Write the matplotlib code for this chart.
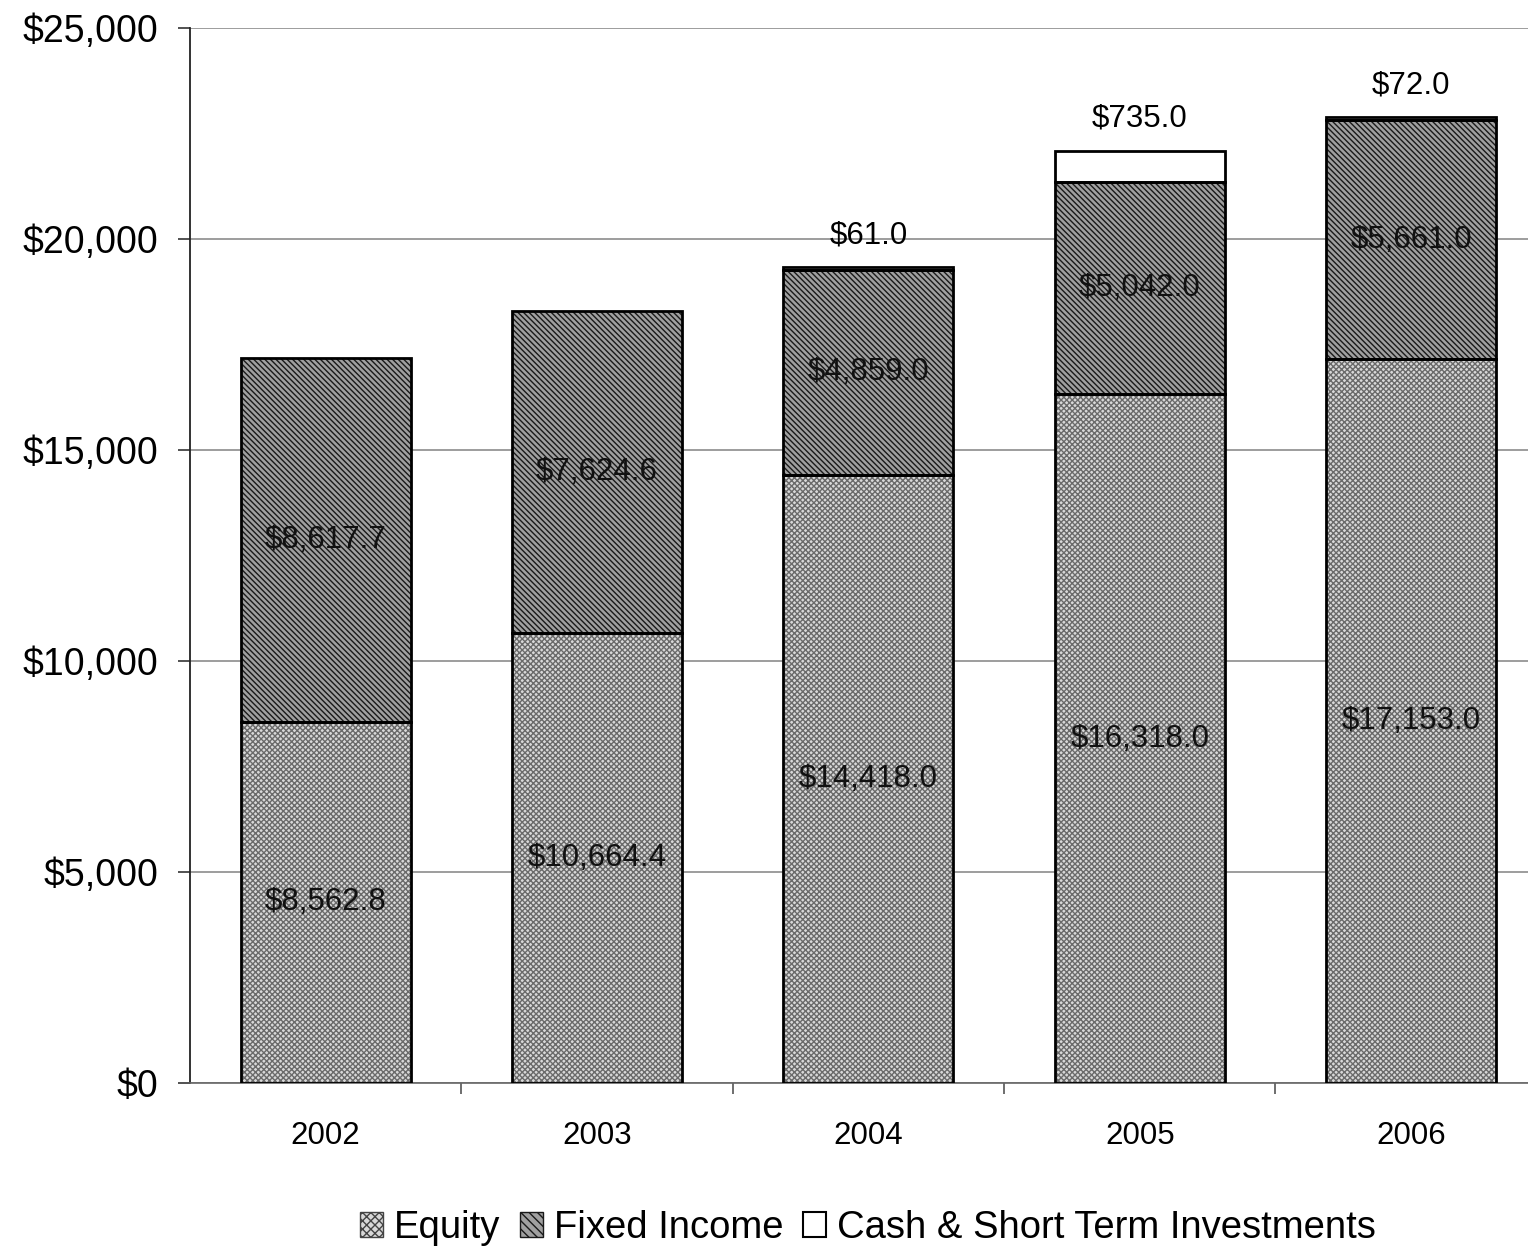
import matplotlib
matplotlib.use("Agg")
import matplotlib.pyplot as plt
import numpy as np
from matplotlib.patches import Patch
from matplotlib.ticker import FuncFormatter

years = ["2002", "2003", "2004", "2005", "2006"]
equity = [8562.8, 10664.4, 14418.0, 16318.0, 17153.0]
fixed_income = [8617.7, 7624.6, 4859.0, 5042.0, 5661.0]
cash = [0.0, 0.0, 61.0, 735.0, 72.0]

plt.rcParams["font.family"] = ["Liberation Sans", "DejaVu Sans"]
plt.rcParams["hatch.linewidth"] = 1.0

fig = plt.figure(figsize=(15.28, 12.57), dpi=100)
ax = fig.add_axes([0.1243, 0.1384, 0.888, 0.8393])

x = np.arange(len(years))
w = 0.626
eq = np.array(equity)
fi = np.array(fixed_income)
ca = np.array(cash)

# hatch layers (edgecolor = hatch colour), then black outlines on top
ax.bar(x, eq, w, color="#d8d8d8", edgecolor="#6a6a6a", hatch="xxxxxx", linewidth=0, zorder=2)
ax.bar(x, fi, w, bottom=eq, color="#a0a0a0", edgecolor="#1a1a1a", hatch="\\\\\\\\\\\\", linewidth=0, zorder=2)
ax.bar(x, ca, w, bottom=eq + fi, color="white", linewidth=0, zorder=2)
ax.bar(x, eq, w, fill=False, edgecolor="black", linewidth=2, zorder=3)
ax.bar(x, fi, w, bottom=eq, fill=False, edgecolor="black", linewidth=2, zorder=3)
ax.bar(x[ca > 0], ca[ca > 0], w, bottom=(eq + fi)[ca > 0], fill=False, edgecolor="black", linewidth=2, zorder=3)

for i in range(len(years)):
    ax.text(x[i], eq[i] / 2, "${:,.1f}".format(eq[i]), ha="center", va="center", fontsize=22.5, color="#111111", zorder=4)
    ax.text(x[i], eq[i] + fi[i] / 2, "${:,.1f}".format(fi[i]), ha="center", va="center", fontsize=22.5, color="#111111", zorder=4)
    if ca[i] > 0:
        ax.annotate("${:,.1f}".format(ca[i]), (x[i], eq[i] + fi[i] + ca[i]), xytext=(0, 12),
                    textcoords="offset points", ha="center", va="bottom", fontsize=22.5, zorder=4)

ax.set_xlim(-0.5, 4.5)
ax.set_ylim(0, 25000)
ax.set_yticks(np.arange(0, 25001, 5000))
ax.yaxis.set_major_formatter(FuncFormatter(lambda v, p: "${:,.0f}".format(v)))
ax.yaxis.grid(True, color="#8c8c8c", linewidth=1.2, zorder=0)
ax.set_axisbelow(True)

ax.set_xticks(x)
ax.set_xticklabels(years, fontsize=22.5)
ax.set_xticks(np.arange(0.5, 4.5, 1), minor=True)
ax.tick_params(axis="x", which="major", length=0, pad=27)
ax.tick_params(axis="x", which="minor", length=8, width=1.2, color="#555555")
ax.tick_params(axis="y", labelsize=27, length=9, width=1.2, color="#333333", pad=14)

for s in ["top", "right"]:
    ax.spines[s].set_visible(False)
ax.spines["left"].set_color("#222222")
ax.spines["left"].set_linewidth(1.3)
ax.spines["bottom"].set_color("#666666")
ax.spines["bottom"].set_linewidth(1.2)

handles = [
    Patch(facecolor="#d8d8d8", edgecolor="#444444", hatch="xxxx", linewidth=1),
    Patch(facecolor="#a0a0a0", edgecolor="#1a1a1a", hatch="\\\\\\\\", linewidth=1),
    Patch(facecolor="white", edgecolor="black", linewidth=1.5),
]
fig.legend(handles, ["Equity", "Fixed Income", "Cash & Short Term Investments"],
           loc="center", bbox_to_anchor=(868 / 1528, 1 - 1228 / 1257), ncol=3, frameon=False,
           fontsize=27.5, handlelength=0.6, handleheight=0.6, handletextpad=0.3, columnspacing=0.5)

fig.savefig("out.png", dpi=100)
